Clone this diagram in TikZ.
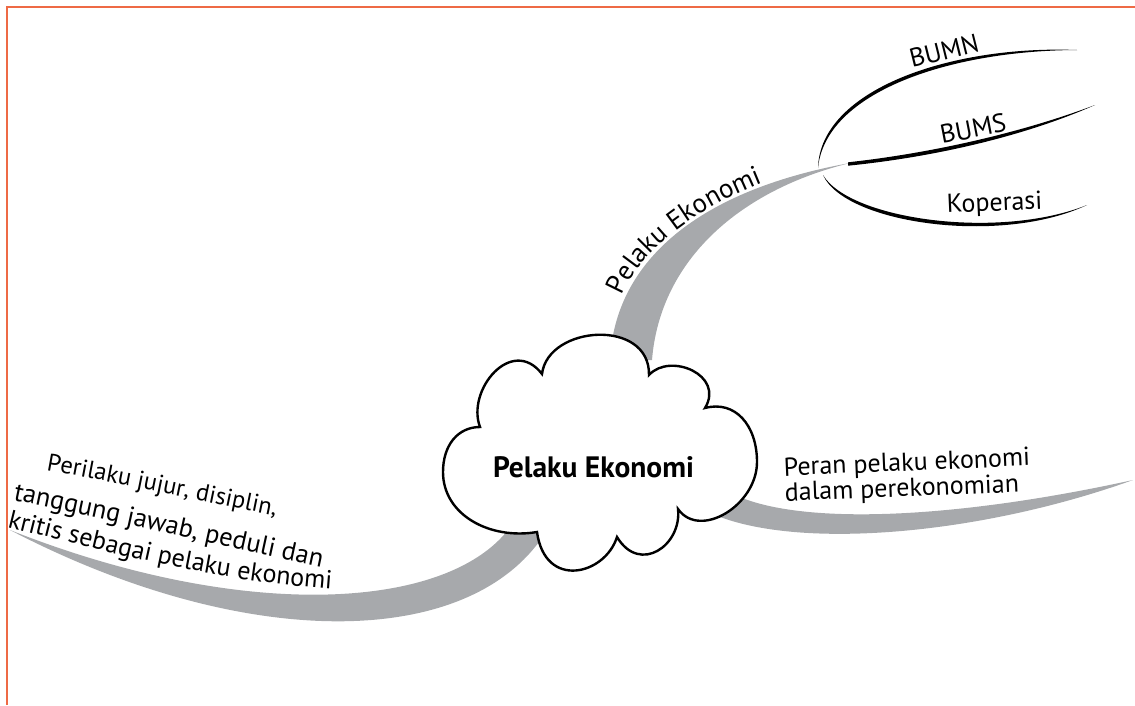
\documentclass[tikz,border=0pt]{standalone}
\usepackage{fontspec}
\setmainfont{PT Sans}
\usetikzlibrary{decorations.text}
\definecolor{branchgrey}{HTML}{A7A9AC}
\definecolor{frameorange}{HTML}{EE6A45}
\begin{document}
\begin{tikzpicture}[x=1pt,y=-1pt,
  branch/.style={fill=branchgrey, draw=none},
  twig/.style={fill=black, draw=none},
  lbl/.style={font=\fontsize{26}{30}\selectfont, inner sep=0pt},
  curvedlbl/.style 2 args={decorate, decoration={text along path, text={|\fontsize{#1}{#1}\selectfont|#2}}},
  ]
\useasboundingbox (0,0) rectangle (1135,705);

% page frame
\draw[frameorange, line width=1.5pt] (7,705) -- (7,7) -- (1135,7);

% grey branches (drawn first, the cloud covers their roots)
\coordinate (tipup) at (850,163);
\coordinate (tipleft) at (10,530);
\coordinate (tipright) at (1133,480);
\path[branch] (610,360) .. controls (615,260) and (700,190) .. (tipup)
  .. controls (740,190) and (660,260) .. (652,360) -- cycle;
\path[branch] (515,520) .. controls (460,610) and (250,625) .. (tipleft)
  .. controls (250,655) and (480,650) .. (550,525) -- cycle;
\path[branch] (735,495) .. controls (800,525) and (950,520) .. (tipright)
  .. controls (980,535) and (800,550) .. (715,515) -- cycle;

% tapered black twigs at the end of the upper branch
\path[twig] (818,168) .. controls (820,90) and (950,45) .. (1077,50)
  .. controls (950,50.5) and (825.5,92) .. (818,168) -- cycle;
\path[twig] (848,162.3) .. controls (930,153.3) and (1020,133.3) .. (1095,105)
  .. controls (1021.5,137.5) and (930,157.5) .. (848,165.7) -- cycle;
\path[twig] (823,175) .. controls (850,220) and (1000,240) .. (1087,205)
  .. controls (1001.5,245.5) and (845,224) .. (823,175) -- cycle;

% central cloud
\coordinate (cA) at (542,374);
\coordinate (cB) at (480,427);
\coordinate (cC) at (649,375);
\coordinate (cD) at (705,408);
\coordinate (cE) at (537,532);
\coordinate (cF) at (617,537);
\coordinate (cG) at (678,509);
\draw[fill=white, line width=2.4pt, line join=miter]
  (cA) .. controls (548,325) and (650,318) .. (cC)
  .. controls (670,352) and (725,375) .. (cD)
  .. controls (735,400) and (757,425) .. (757,462)
  .. controls (757,505) and (700,540) .. (cG)
  .. controls (682,545) and (640,575) .. (cF)
  .. controls (605,575) and (545,590) .. (cE)
  .. controls (490,540) and (443,515) .. (443,472)
  .. controls (443,445) and (458,427) .. (cB)
  .. controls (466,390) and (512,335) .. (cA) -- cycle;
\node[font=\bfseries\fontsize{29.5}{33}\selectfont, inner sep=0pt, anchor=base]
  (core) at (593.5,477) {Pelaku Ekonomi};

% labels
\path[curvedlbl={27}{Pelaku Ekonomi}] (622,296) .. controls (642,248) and (700,200) .. (810,166);

\node[lbl, anchor=base west, rotate=14] (bumn) at (912,68) {BUMN};
\node[lbl, anchor=base west, rotate=11] (bums) at (942,144) {BUMS};
\node[lbl, anchor=base west, rotate=2.5] (kop) at (947,213) {Koperasi};

\node[lbl, anchor=base west, rotate=2.4] (peran1) at (784,476) {Peran pelaku ekonomi};
\node[lbl, anchor=base west, rotate=2.2] (peran2) at (785,501) {dalam perekonomian};

\path[curvedlbl={24.5}{Perilaku jujur, disiplin,}] (46,470) .. controls (130,485) and (210,503) .. (320,525);
\path[curvedlbl={26.5}{tanggung jawab, peduli dan}] (13,500) .. controls (120,522) and (230,548) .. (345,572);
\path[curvedlbl={26}{kritis sebagai pelaku ekonomi}] (7,527) .. controls (120,555) and (230,585) .. (360,591);
\end{tikzpicture}
\end{document}
